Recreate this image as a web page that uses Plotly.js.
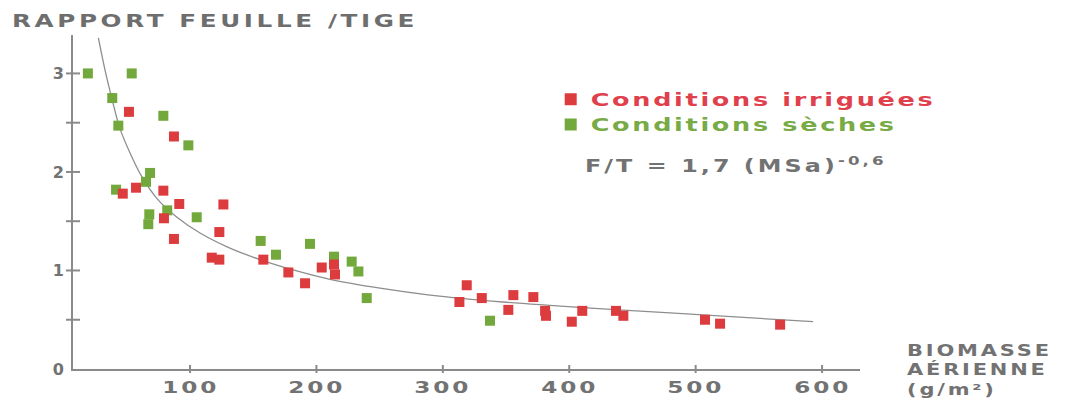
<!DOCTYPE html>
<html><head><meta charset="utf-8">
<script src="https://cdn.plot.ly/plotly-3.0.1.min.js"></script>
<style>
body{margin:0;background:#fff}
#chart{width:1078px;height:398px}
g.annotation text, text.legendtext{transform-box:fill-box}
g.annotation[data-index="0"] text{letter-spacing:2.5px;transform-origin:0 50%;transform:scaleX(1.45)}
g.annotation[data-index="1"] text{letter-spacing:2.2px;transform-origin:0 50%;transform:scaleX(1.4)}
g.annotation[data-index="2"] text{letter-spacing:2px;transform-origin:0 50%;transform:scaleX(1.4)}
g.annotation[data-index="3"] text, g.annotation[data-index="4"] text, g.annotation[data-index="5"] text,
g.annotation[data-index="6"] text, g.annotation[data-index="7"] text, g.annotation[data-index="8"] text
{letter-spacing:2px;transform-origin:50% 50%;transform:scaleX(1.45)}
text.legendtext{letter-spacing:1.8px;transform-origin:0 50%;transform:scaleX(1.5)}
</style></head><body><div id="chart"></div>
<script>
// Conditions irriguées (red)
const irrX = [51.7, 87.3, 57.3, 46.8, 78.9, 91.5, 126.4, 79.4, 123.2, 87.3, 117.2, 123.2, 158.0, 204.2, 213.9, 177.8, 214.7, 191.0, 318.9, 330.8, 313.1, 355.8, 371.6, 351.8, 380.9, 381.6, 410.3, 402.0, 437.0, 442.8, 507.4, 519.3, 566.8];
const irrY = [2.61, 2.36, 1.84, 1.78, 1.81, 1.675, 1.67, 1.53, 1.39, 1.32, 1.13, 1.11, 1.11, 1.03, 1.06, 0.98, 0.96, 0.87, 0.85, 0.72, 0.68, 0.75, 0.73, 0.60, 0.59, 0.54, 0.59, 0.48, 0.59, 0.54, 0.50, 0.46, 0.45];
// Conditions sèches (green)
const secX = [19.2, 53.9, 38.5, 78.9, 43.3, 98.7, 68.4, 65.2, 41.5, 82.0, 67.8, 105.3, 67.0, 155.9, 168.0, 194.9, 213.9, 227.9, 233.2, 239.8, 337.3];
const secY = [3.00, 3.00, 2.75, 2.57, 2.47, 2.27, 1.99, 1.90, 1.82, 1.61, 1.57, 1.54, 1.47, 1.30, 1.16, 1.27, 1.14, 1.09, 0.99, 0.72, 0.49];
// fitted curve
const curveX = [27.5, 33.0, 38.3, 44.6, 54.1, 62.0, 73.9, 89.7, 107.9, 129.3, 155.4, 183.0, 210.8, 250.3, 289.9, 347.6, 414.1, 479.7, 592.9];
const curveY = [3.36, 3.02, 2.74, 2.44, 2.15, 1.95, 1.73, 1.54, 1.38, 1.24, 1.11, 1.00, 0.91, 0.82, 0.75, 0.68, 0.62, 0.57, 0.48];
const xTicks = [100, 200, 300, 400, 500, 600];
const yTicks = [1, 2, 3];
const yLabels = [0, 1, 2, 3];
const yMinor = [0.5, 1.5, 2.5];

const gray = '#8a8a8a';
const txt = '#727272';
const F = 'DejaVu Sans';
const xr = [7.44, 630];
const yr = [0, 3.39];

const traces = [
  {x: curveX, y: curveY, mode: 'lines', line: {color: '#8e8e8e', width: 1.3, shape: 'spline', smoothing: 1}, showlegend: false, hoverinfo: 'skip'},
  {x: secX, y: secY, mode: 'markers', name: '<span style="color:#78aa45">Conditions sèches</span>',
   marker: {symbol: 'square', size: 10, color: '#72a83c'}, legendrank: 2},
  {x: irrX, y: irrY, mode: 'markers', name: '<span style="color:#e0404c">Conditions irriguées</span>',
   marker: {symbol: 'square', size: 10, color: '#dc3c3e'}, legendrank: 1}
];

const tickShapes = xTicks.map(v => ({type: 'line', xref: 'x', yref: 'paper', x0: v, x1: v,
    ysizemode: 'pixel', yanchor: 0, y0: -4, y1: 4, line: {color: gray, width: 2}}))
  .concat(yTicks.concat(yMinor).map(v => ({type: 'line', xref: 'paper', yref: 'y', y0: v, y1: v,
    xsizemode: 'pixel', xanchor: 0, x0: -7, x1: 7, line: {color: gray, width: 2}})));

const xTickLabels = xTicks.map(v => ({text: String(v), xref: 'x', yref: 'paper', x: v, y: -0.055,
  xanchor: 'center', yanchor: 'middle', showarrow: false, font: {family: F, size: 16, color: txt, weight: 'bold'}}));

const layout = {
  width: 1078, height: 398,
  margin: {l: 73, r: 218, t: 35, b: 29},
  paper_bgcolor: '#fff', plot_bgcolor: '#fff',
  xaxis: {range: xr, showline: true, linecolor: gray, linewidth: 1.5, showgrid: false, zeroline: false,
    ticks: '', showticklabels: false},
  yaxis: {range: yr, showline: true, linecolor: gray, linewidth: 2, showgrid: false, zeroline: false,
    ticks: '', tickvals: yLabels, ticktext: yLabels.map(String),
    tickfont: {family: F, size: 16, color: txt, weight: 'bold'}, ticklabelstandoff: 4},
  shapes: tickShapes,
  showlegend: true,
  legend: {x: 0.607, y: 0.86, xanchor: 'left', yanchor: 'top', bgcolor: 'rgba(0,0,0,0)',
    font: {family: F, size: 17, color: txt, weight: 'bold'}, tracegroupgap: 0, itemwidth: 30, itemsizing: 'constant'},
  annotations: [
    {text: 'RAPPORT FEUILLE /TIGE', xref: 'paper', yref: 'paper', x: -0.080, y: 1.042, xanchor: 'left', yanchor: 'middle', align: 'left',
     showarrow: false, font: {family: F, size: 17, color: '#6e6e6e', weight: 'bold'}},
    {text: 'F/T = 1,7 (MSa)<sup>-0,6</sup>', xref: 'paper', yref: 'paper', x: 0.648, y: 0.611, xanchor: 'left', yanchor: 'middle', align: 'left',
     showarrow: false, font: {family: F, size: 17, color: txt, weight: 'bold'}},
    {text: 'BIOMASSE<br>AÉRIENNE<br>(g/m²)', xref: 'paper', yref: 'paper', x: 1.057, y: -0.003, xanchor: 'left', yanchor: 'middle', align: 'left',
     showarrow: false, font: {family: F, size: 15, color: txt, weight: 'bold'}}
  ].concat(xTickLabels)
};
Plotly.newPlot('chart', traces, layout, {staticPlot: true});
</script></body></html>
